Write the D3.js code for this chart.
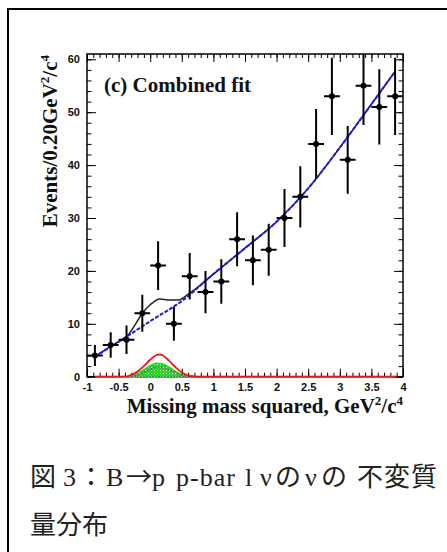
<!DOCTYPE html>
<html>
<head>
<meta charset="utf-8">
<script src="https://cdn.jsdelivr.net/npm/d3@7"></script>
<style>
  body { margin: 0; background: #fff; }
  svg { display: block; }
</style>
</head>
<body>
<div id="container"></div>
<script>
// Data
const binCenters = [-0.875, -0.625, -0.375, -0.125, 0.125, 0.375, 0.625, 0.875, 1.125, 1.375,
  1.625, 1.875, 2.125, 2.375, 2.625, 2.875, 3.125, 3.375, 3.625, 3.875];
const counts = [4, 6, 7, 12, 21, 10, 19, 16, 18, 26, 22, 24, 30, 34, 44, 53, 41, 55, 51, 53];
const errors = [2.0, 2.4, 2.7, 3.5, 4.6, 3.2, 4.4, 4.0, 4.2, 5.1, 4.7, 4.9, 5.5, 5.8, 6.6, 7.3, 6.4, 7.4, 7.1, 7.3];

// background fit (blue dashed)
const bgX = [-0.875, -0.5, 0, 0.5, 1, 1.5, 2, 2.5, 3, 3.5, 3.875];
const bgY = [3.8, 6.6, 10.5, 14.3, 19.4, 24.3, 29.3, 35.6, 43.3, 51.5, 57.7];

// total fit (black solid)
const totalX = [-0.875, -0.6, -0.45, -0.35, -0.25, -0.125, 0, 0.15, 0.3, 0.45, 0.6, 0.75, 1, 1.5, 2, 2.5, 3, 3.5, 3.875];
const totalY = [3.8, 5.9, 7.0, 7.9, 9.6, 12.0, 13.6, 14.7, 14.5, 14.5, 15.6, 16.9, 19.4, 24.3, 29.3, 35.6, 43.3, 51.5, 57.7];

// signal (red), green component, magenta component
const redX = [-0.875, -0.4, -0.3, -0.2, -0.1, 0, 0.1, 0.15, 0.2, 0.3, 0.4, 0.5, 0.6, 0.7, 0.8, 3.9];
const redY = [0, 0, 0.35, 1.0, 2.0, 3.2, 4.1, 4.2, 4.0, 3.0, 1.8, 0.8, 0.25, 0.05, 0, 0];
const greenX = [-0.35, -0.2, -0.1, 0, 0.1, 0.2, 0.3, 0.4, 0.5, 0.6];
const greenY = [0, 0.6, 1.3, 2.1, 2.55, 2.4, 1.8, 1.0, 0.35, 0];
const magX = [-0.3, -0.2, -0.1, 0, 0.1, 0.2, 0.3, 0.4, 0.5, 0.6, 0.7, 1.0];
const magY = [0, 0.3, 0.8, 1.4, 1.8, 1.7, 1.3, 0.75, 0.3, 0.05, 0, 0];

// tick labels
const xTickValues = [-1, -0.5, 0, 0.5, 1, 1.5, 2, 2.5, 3, 3.5, 4];
const yTickValues = [0, 10, 20, 30, 40, 50, 60];

const W = 447, H = 552;
const svg = d3.select("#container").append("svg").attr("width", W).attr("height", H);

// outer page frame
svg.append("rect")
  .attr("x", 8).attr("y", 9)
  .attr("width", W + 10).attr("height", H + 10)
  .attr("fill", "none").attr("stroke", "#000").attr("stroke-width", 2);

const x = d3.scaleLinear().domain([-1, 4]).range([87, 403]);
const y = d3.scaleLinear().domain([0, 61]).range([376.7, 54]);

const tickFont = "bold 11px 'Liberation Sans', Arial, sans-serif";

// axes: ticks point inwards
function styleAxis(g) {
  g.select(".domain").remove();
  g.selectAll("line").attr("stroke", "#000").attr("stroke-width", 1);
  g.selectAll("text").style("font", tickFont).attr("fill", "#111");
}

const xMinor = d3.range(-1, 4.001, 0.1).map((d) => +d.toFixed(2));
const yMinor = d3.range(0, 61, 2);

svg.append("g").attr("transform", `translate(0,${y(0)})`)
  .call(d3.axisBottom(x).tickValues(xMinor).tickSize(-4).tickFormat(""))
  .call(styleAxis);
svg.append("g").attr("transform", `translate(0,${y(0)})`)
  .call(d3.axisBottom(x).tickValues(xTickValues).tickSize(-8).tickPadding(7).tickFormat((d) => String(d)))
  .call(styleAxis);
svg.append("g").attr("transform", `translate(0,${y.range()[1]})`)
  .call(d3.axisTop(x).tickValues(xMinor).tickSize(-4).tickFormat(""))
  .call(styleAxis);
svg.append("g").attr("transform", `translate(0,${y.range()[1]})`)
  .call(d3.axisTop(x).tickValues(xTickValues).tickSize(-8).tickFormat(""))
  .call(styleAxis);

svg.append("g").attr("transform", `translate(${x(-1)},0)`)
  .call(d3.axisLeft(y).tickValues(yMinor).tickSize(-4.5).tickFormat(""))
  .call(styleAxis);
svg.append("g").attr("transform", `translate(${x(-1)},0)`)
  .call(d3.axisLeft(y).tickValues(yTickValues).tickSize(-9).tickPadding(7).tickFormat((d) => String(d)))
  .call(styleAxis);
svg.append("g").attr("transform", `translate(${x(4)},0)`)
  .call(d3.axisRight(y).tickValues(yMinor).tickSize(-4.5).tickFormat(""))
  .call(styleAxis);
svg.append("g").attr("transform", `translate(${x(4)},0)`)
  .call(d3.axisRight(y).tickValues(yTickValues).tickSize(-9).tickFormat(""))
  .call(styleAxis);

// plot frame
svg.append("rect")
  .attr("x", x(-1)).attr("y", y.range()[1])
  .attr("width", x(4) - x(-1)).attr("height", y(0) - y.range()[1])
  .attr("fill", "none").attr("stroke", "#000").attr("stroke-width", 1.5);

// hatch for the green component
const defs = svg.append("defs");
const pat = defs.append("pattern").attr("id", "hatch")
  .attr("patternUnits", "userSpaceOnUse").attr("width", 3).attr("height", 3);
pat.append("rect").attr("width", 3).attr("height", 3).attr("fill", "#22dd22");
pat.append("rect").attr("x", 1).attr("y", 1).attr("width", 1).attr("height", 1).attr("fill", "#e8ffe8");

const zip = (xs, ys) => xs.map((v, i) => [v, ys[i]]);
const line = d3.line().x((d) => x(d[0])).y((d) => y(d[1])).curve(d3.curveMonotoneX);
const area = d3.area().x((d) => x(d[0])).y0(y(0)).y1((d) => y(d[1])).curve(d3.curveMonotoneX);

svg.append("path").datum(zip(greenX, greenY)).attr("d", area).attr("fill", "url(#hatch)");
svg.append("path").datum(zip(greenX, greenY)).attr("d", line)
  .attr("fill", "none").attr("stroke", "#00ee00").attr("stroke-width", 1.5);
svg.append("path").datum(zip(magX, magY)).attr("d", line)
  .attr("fill", "none").attr("stroke", "#ee00ee").attr("stroke-width", 1.6).attr("stroke-dasharray", "1.5,2");
svg.append("path").datum(zip(redX, redY)).attr("d", line)
  .attr("fill", "none").attr("stroke", "#ff1010").attr("stroke-width", 1.8);

// fits
svg.append("path").datum(zip(totalX, totalY)).attr("d", line)
  .attr("fill", "none").attr("stroke", "#222").attr("stroke-width", 1.5);
svg.append("path").datum(zip(bgX, bgY)).attr("d", line)
  .attr("fill", "none").attr("stroke", "#1a1aee").attr("stroke-width", 2).attr("stroke-dasharray", "4,1.5");

// data points with error bars, clipped to the frame
defs.append("clipPath").attr("id", "frame").append("rect")
  .attr("x", x(-1)).attr("y", y.range()[1])
  .attr("width", x(4) - x(-1)).attr("height", y(0) - y.range()[1]);

const pts = svg.append("g").attr("clip-path", "url(#frame)")
  .selectAll("g.pt").data(binCenters.map((c, i) => ({ c, n: counts[i], e: errors[i] })))
  .enter().append("g").attr("class", "pt");
pts.append("line")
  .attr("x1", (d) => x(d.c)).attr("x2", (d) => x(d.c))
  .attr("y1", (d) => y(d.n - d.e)).attr("y2", (d) => y(d.n + d.e))
  .attr("stroke", "#000").attr("stroke-width", 2);
pts.append("line")
  .attr("x1", (d) => x(d.c - 0.125)).attr("x2", (d) => x(d.c + 0.125))
  .attr("y1", (d) => y(d.n)).attr("y2", (d) => y(d.n))
  .attr("stroke", "#000").attr("stroke-width", 2);
pts.append("circle")
  .attr("cx", (d) => x(d.c)).attr("cy", (d) => y(d.n)).attr("r", 3).attr("fill", "#000");

// texts
const serifBold = "'Liberation Serif', 'Times New Roman', serif";

svg.append("text").attr("x", 104).attr("y", 92)
  .style("font-family", serifBold).style("font-weight", "bold").style("font-size", "21px")
  .attr("fill", "#111").text("(c) Combined fit");

const xl = svg.append("text").attr("x", 403).attr("y", 413).attr("text-anchor", "end")
  .style("font-family", serifBold).style("font-weight", "bold").style("font-size", "21px").attr("fill", "#111");
xl.append("tspan").text("Missing mass squared, GeV");
xl.append("tspan").attr("dy", -8).style("font-size", "13px").text("2");
xl.append("tspan").attr("dy", 8).text("/c");
xl.append("tspan").attr("dy", -8).style("font-size", "13px").text("4");

const yl = svg.append("text").attr("transform", "translate(57,55) rotate(-90)").attr("text-anchor", "end")
  .style("font-family", serifBold).style("font-weight", "bold").style("font-size", "21px").attr("fill", "#111");
yl.append("tspan").text("Events/0.20GeV");
yl.append("tspan").attr("dy", -8).style("font-size", "13px").text("2");
yl.append("tspan").attr("dy", 8).text("/c");
yl.append("tspan").attr("dy", -8).style("font-size", "13px").text("4");

// caption, laid out piece by piece like the original document
const capFont = "'Liberation Serif', 'Noto Sans CJK JP', serif";
const cjkFont = "'Noto Sans CJK JP', sans-serif";
const captionParts = [
  ["図", 30, cjkFont, 0], ["3", 63, capFont, 0], ["：", 78, cjkFont, 0], ["B", 106, capFont, 0],
  ["→", 126, cjkFont, 0], ["p", 152, capFont, 0], ["p-bar", 176, capFont, 1], ["l", 245, capFont, 0],
  ["ν", 260, capFont, 0], ["の", 275, cjkFont, 0], ["ν", 305, capFont, 0], ["の", 321, cjkFont, 0],
  ["不変質", 357, cjkFont, 1],
];
const cap = svg.append("text").attr("y", 486).style("font-size", "26px").attr("fill", "#222");
captionParts.forEach(([t, px, f, ls]) => {
  cap.append("tspan").attr("x", px).style("font-family", f).style("letter-spacing", ls + "px").text(t);
});
svg.append("text").attr("x", 30).attr("y", 534)
  .style("font-family", cjkFont).style("font-size", "26px").attr("fill", "#222")
  .text("量分布");
</script>
</body>
</html>
